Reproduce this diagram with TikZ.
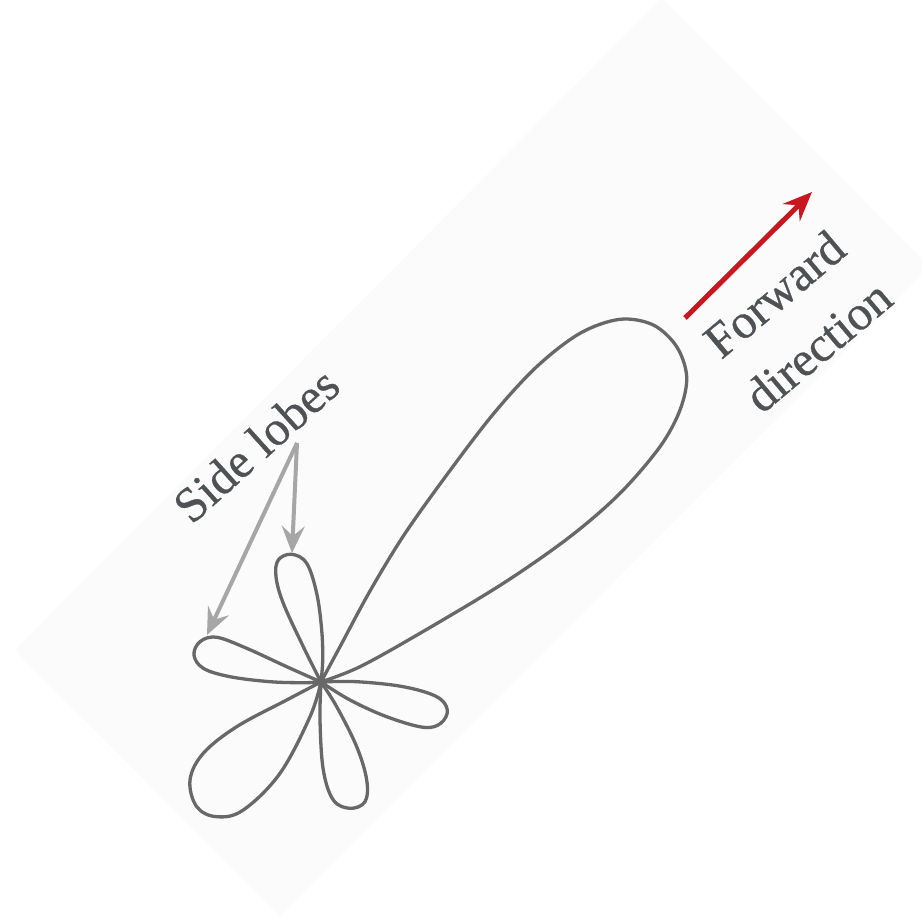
\documentclass[tikz,border=0pt]{standalone}
\usepackage{fontspec}
\setmainfont{Liberation Serif}[FakeBold=0.6]
\usetikzlibrary{arrows.meta}
\definecolor{bgfill}{RGB}{251,251,251}
\definecolor{lobegray}{RGB}{104,104,104}
\definecolor{arrowgray}{RGB}{166,166,166}
\definecolor{fwdred}{RGB}{198,24,30}
\definecolor{txtgray}{RGB}{78,82,84}
\tikzset{
  lobe/.style={draw=lobegray, line width=3.3pt, line join=round},
  sidearrow/.style={draw=arrowgray, line width=4pt, -{Stealth[length=27pt,width=23pt,inset=10pt]}},
  fwdarrow/.style={draw=fwdred, line width=5pt, -{Stealth[length=29pt,width=24pt,inset=10pt]}},
  label/.style={text=txtgray, font=\fontsize{49}{68}\selectfont, inner sep=0pt},
}
\begin{document}
\begin{tikzpicture}[x=1pt,y=-1pt]
\useasboundingbox (0,0) rectangle (922,918);
\clip (0,0) rectangle (922,918);
% faint rotated background
\fill[bgfill] (662,-2) -- (929,266) -- (280,916) -- (15,650) -- cycle;
\coordinate (C) at (321,682);
% main lobe
\draw[lobe] plot[smooth, tension=0.55] coordinates {(C) (340,646.7) (370,591) (404,535) (446.7,475) (493.3,414) (536.7,366.7) (580,333.3) (620,319.3) (653.3,325) (676.7,346.7) (686.7,376.7) (680,410) (660,446.7) (620,493.3) (570,536.7) (503.3,583.3) (420,633.3) (360,666.7) (C)};
% upper small lobe
\draw[lobe] plot[smooth, tension=0.6] coordinates {(C) (303.3,646.7) (283.3,603.3) (276,576.7) (278.3,560) (291.7,554.3) (306.7,563.3) (316.7,593.3) (321.7,630) (322.7,660) (C)};
% left lobe
\draw[lobe] plot[smooth, tension=0.6] coordinates {(C) (286.7,666.7) (246.7,648.3) (216.7,637.3) (200,641.7) (194,655) (203.3,668.3) (230,676.7) (270,681.7) (303.3,682.7) (C)};
% right lobe
\draw[lobe] plot[smooth, tension=0.6] coordinates {(C) (356.7,681.7) (403.3,686.7) (436.7,696.7) (447.3,710) (440.7,723.3) (423.3,727.3) (386.7,716.7) (350,700) (C)};
% bottom lobe
\draw[lobe] plot[smooth, tension=0.6] coordinates {(C) (320,720) (323.3,770) (333.3,800) (350,808.3) (365,801.7) (366.7,780) (356.7,746.7) (336.7,706.7) (C)};
% lower-left lobe
\draw[lobe] plot[smooth, tension=0.6] coordinates {(C) (286.7,700) (236.7,726.7) (203.3,753.3) (190,780) (196.7,806.7) (216.7,816.7) (243.3,810) (280,773.3) (310,716.7) (C)};
% side lobe arrows
\coordinate (apex) at (297,443);
\coordinate (tipA) at (292,553);
\coordinate (tipB) at (207,635);
\draw[sidearrow] (apex) -- (tipA);
\draw[sidearrow] (apex) -- (tipB);
\node[label, rotate=42] (side) at (256,445) {Side lobes};
% forward arrow
\coordinate (fwdS) at (685,318);
\coordinate (fwdE) at (812,192);
\draw[fwdarrow] (fwdS) -- (fwdE);
\node[label, rotate=40, align=center] (fwd) at (796,320) {Forward\\direction};
\end{tikzpicture}
\end{document}
